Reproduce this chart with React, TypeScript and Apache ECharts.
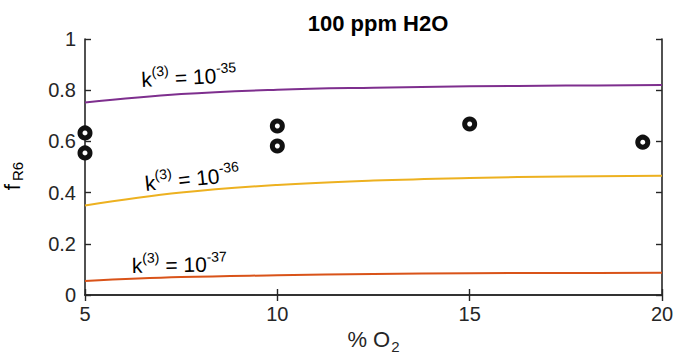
import React, { useEffect, useRef } from "react";
import * as echarts from "echarts";

const xCurve = [5, 7.5, 10, 12.5, 15, 17.5, 20];
const k35 = [0.752, 0.785, 0.802, 0.81, 0.815, 0.818, 0.82];
const k36 = [0.35, 0.4, 0.43, 0.447, 0.457, 0.463, 0.466];
const k37 = [0.055, 0.07, 0.077, 0.082, 0.085, 0.086, 0.087];
const measX = [5, 5, 10, 10, 15, 19.5];
const measY = [0.633, 0.555, 0.66, 0.582, 0.668, 0.597];
const xTicks = [5, 10, 15, 20];
const yTicks = [0, 0.2, 0.4, 0.6, 0.8, 1];

const FONT = "'Liberation Sans', Arial, Helvetica, sans-serif";
const AX = "#262626";

const pair = (xs: number[], ys: number[]) => xs.map((x, i) => [x, ys[i]]);

export default function App() {
  const ref = useRef<HTMLDivElement>(null);
  useEffect(() => {
    if (!ref.current) return;
    const chart = echarts.init(ref.current, null, { renderer: "svg" });
    const axisLine = { show: true, lineStyle: { color: AX, width: 1.6 } };
    const axisTick = { show: true, inside: true, length: 6, lineStyle: { color: AX, width: 1.4 } };
    const kRich = {
      m: { fontSize: 21, fontFamily: FONT, color: "#111", lineHeight: 21, verticalAlign: "bottom" },
      s: { fontSize: 14, fontFamily: FONT, color: "#111", lineHeight: 14, verticalAlign: "bottom", padding: [0, 0, 11, 0] },
    };
    const kLabel = (x: number, y: number, exp: string, rot: number) => ({
      type: "text",
      x,
      y,
      rotation: (rot * Math.PI) / 180,
      style: {
        text: `{m|k}{s|(3)}{m| = 10}{s|${exp}}`,
        rich: kRich,
        textAlign: "left",
        textVerticalAlign: "bottom",
      },
    });
    chart.setOption({
      animation: false,
      backgroundColor: "#fff",
      title: {
        text: "100 ppm H2O",
        left: 373,
        top: 7,
        textAlign: "center",
        textStyle: { fontFamily: FONT, fontSize: 22, fontWeight: "bold", color: "#000" },
      },
      grid: { left: 85, right: 15, top: 39, bottom: 63, containLabel: false, outerBoundsMode: "none" },
      xAxis: [
        {
          type: "value",
          min: 5,
          max: 20,
          interval: 5,
          position: "bottom",
          axisLine,
          axisTick,
          splitLine: { show: false },
          axisLabel: { fontFamily: FONT, fontSize: 20, color: AX, margin: 9, customValues: xTicks },
          name: "% O{sub|2}",
          nameLocation: "middle",
          nameGap: 24,
          nameTextStyle: {
            fontFamily: FONT,
            fontSize: 22,
            color: AX,
            rich: { sub: { fontSize: 15, fontFamily: FONT, color: AX, verticalAlign: "bottom", padding: [14, 0, 0, 1] } },
          },
        },
        {
          type: "value",
          min: 5,
          max: 20,
          interval: 5,
          position: "top",
          axisLine,
          axisTick,
          splitLine: { show: false },
          axisLabel: { show: false },
        },
      ],
      yAxis: [
        {
          type: "value",
          min: 0,
          max: 1,
          interval: 0.2,
          position: "left",
          axisLine,
          axisTick,
          splitLine: { show: false },
          axisLabel: {
            fontFamily: FONT,
            fontSize: 20,
            color: AX,
            margin: 9,
            formatter: (v: number) => (yTicks.includes(Math.round(v * 10) / 10) ? String(Math.round(v * 10) / 10) : ""),
          },
        },
        {
          type: "value",
          min: 0,
          max: 1,
          interval: 0.2,
          position: "right",
          axisLine,
          axisTick,
          splitLine: { show: false },
          axisLabel: { show: false },
        },
      ],
      graphic: [
        kLabel(142, 90, "-35", 3),
        kLabel(146, 194, "-36", 6),
        kLabel(132, 276, "-37", 1),
        {
          type: "text",
          x: 13,
          y: 176,
          rotation: Math.PI / 2,
          style: {
            text: "{m|f}{s|R6}",
            rich: {
              m: { fontSize: 22, fontFamily: FONT, color: AX, lineHeight: 24, verticalAlign: "top" },
              s: { fontSize: 15, fontFamily: FONT, color: AX, lineHeight: 15, verticalAlign: "bottom", padding: [0, 0, 0, 3] },
            },
            textAlign: "center",
            textVerticalAlign: "middle",
          },
        },
      ],
      series: [
        {
          type: "line",
          data: pair(xCurve, k35),
          smooth: 0.4,
          symbol: "none",
          lineStyle: { color: "#7E2F8E", width: 2 },
          z: 2,
        },
        {
          type: "line",
          data: pair(xCurve, k36),
          smooth: 0.4,
          symbol: "none",
          lineStyle: { color: "#EDB120", width: 2 },
          z: 2,
        },
        {
          type: "line",
          data: pair(xCurve, k37),
          smooth: 0.4,
          symbol: "none",
          lineStyle: { color: "#D95319", width: 2 },
          z: 2,
        },
        {
          type: "scatter",
          data: pair(measX, measY),
          symbol: "circle",
          symbolSize: 10,
          itemStyle: { color: "#fff", borderColor: "#111", borderWidth: 5, opacity: 1 },
          z: 5,
        },
      ],
    });
    return () => chart.dispose();
  }, []);
  return <div ref={ref} style={{ width: 677, height: 358, position: "absolute", left: 0, top: 0 }} />;
}
